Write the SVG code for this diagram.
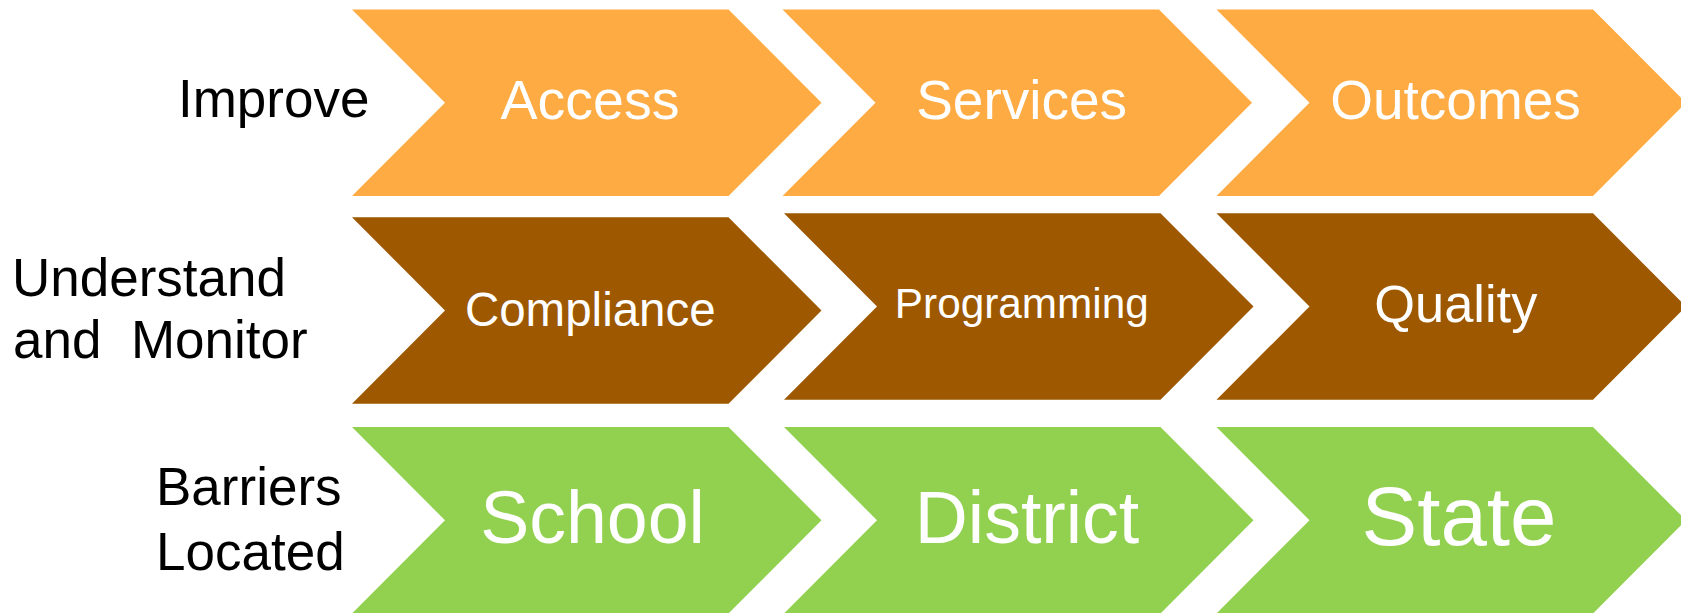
<svg xmlns="http://www.w3.org/2000/svg" width="1681" height="613" viewBox="0 0 1681 613">
<style>
.bg{fill:#ffffff}
.o{fill:#FFAB43}
.b{fill:#9D5800}
.g{fill:#92D050}
.t{font-family:"Liberation Sans",Arial,sans-serif;fill:#ffffff;text-anchor:middle}
.l{font-family:"Liberation Sans",Arial,sans-serif;fill:#000000;font-size:53px}
</style>
<rect class="bg" x="0" y="0" width="1681" height="613"/>
<g id="row-labels">
<text id="label-improve" class="l" x="178" y="117.3">Improve</text>
<text id="label-understand" class="l" x="12" y="295.7" xml:space="preserve"><tspan x="12" y="295.7">Understand</tspan><tspan x="13" y="358.3">and  Monitor</tspan></text>
<text id="label-barriers" class="l" x="156" y="505"><tspan x="156" y="505">Barriers</tspan><tspan x="156" y="570">Located</tspan></text>
</g>
<g id="connectors"></g>
<g id="access"><polygon class="o" points="352,9.5 728.5,9.5 821.5,102.75 728.5,196 352,196 445,102.75"/><text class="t" x="590" y="119" font-size="55.5">Access</text></g>
<g id="services"><polygon class="o" points="782.5,9.5 1159,9.5 1252,102.75 1159,196 782.5,196 875.5,102.75"/><text class="t" x="1021.6" y="119" font-size="55">Services</text></g>
<g id="outcomes"><polygon class="o" points="1216.5,9.5 1593,9.5 1686,102.75 1593,196 1216.5,196 1309.5,102.75"/><text class="t" x="1455.5" y="119" font-size="55">Outcomes</text></g>
<g id="compliance"><polygon class="b" points="352,217.3 728.5,217.3 821.5,310.5 728.5,403.8 352,403.8 445,310.5"/><text class="t" x="590.3" y="326" font-size="47.5">Compliance</text></g>
<g id="programming"><polygon class="b" points="784,213.3 1160.5,213.3 1253.5,306.5 1160.5,399.8 784,399.8 877,306.5"/><text class="t" x="1021.8" y="318.3" font-size="42.3">Programming</text></g>
<g id="quality"><polygon class="b" points="1216.5,213.3 1593,213.3 1686,306.5 1593,399.8 1216.5,399.8 1309.5,306.5"/><text class="t" x="1455.8" y="321.7" font-size="52.4">Quality</text></g>
<g id="school"><polygon class="g" points="352,427 728.5,427 821.5,520.25 728.5,613.5 352,613.5 445,520.25"/><text class="t" x="592.5" y="543.3" font-size="73.5">School</text></g>
<g id="district"><polygon class="g" points="784,427 1160.5,427 1253.5,520.25 1160.5,613.5 784,613.5 877,520.25"/><text class="t" x="1027" y="543.3" font-size="73.5">District</text></g>
<g id="state"><polygon class="g" points="1216.5,427 1593,427 1686,520.25 1593,613.5 1216.5,613.5 1309.5,520.25"/><text class="t" x="1459" y="545" font-size="83.5">State</text></g>
</svg>
